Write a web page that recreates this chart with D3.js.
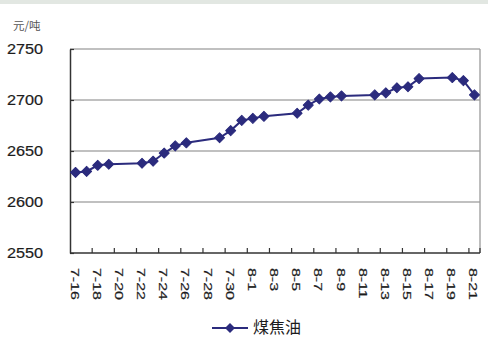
<!DOCTYPE html>
<html>
<head>
<meta charset="utf-8">
<script src="https://cdn.jsdelivr.net/npm/d3@7"></script>
<style>
  html, body { margin: 0; padding: 0; background: #fff; }
  svg { display: block; }
</style>
</head>
<body>
<svg id="chart" width="488" height="337"></svg>
<script>
// Every calendar day on the category axis (7-16 through 8-21)
const days = [
  "7-16","7-17","7-18","7-19","7-20","7-21","7-22","7-23","7-24","7-25",
  "7-26","7-27","7-28","7-29","7-30","7-31","8-1","8-2","8-3","8-4",
  "8-5","8-6","8-7","8-8","8-9","8-10","8-11","8-12","8-13","8-14",
  "8-15","8-16","8-17","8-18","8-19","8-20","8-21"
];
// Quoted days and prices (元/吨)
const quoteDays = [
  "7-16","7-17","7-18","7-19","7-22","7-23","7-24","7-25","7-26",
  "7-29","7-30","7-31","8-1","8-2","8-5","8-6","8-7","8-8","8-9",
  "8-12","8-13","8-14","8-15","8-16","8-19","8-20","8-21"
];
const prices = [
  2629, 2630, 2636, 2637, 2638, 2640, 2648, 2655, 2658,
  2663, 2670, 2680, 2682, 2684, 2687, 2695, 2701, 2703, 2704,
  2705, 2707, 2712, 2713, 2721, 2722, 2719, 2705
];
const yTicks = [2550, 2600, 2650, 2700, 2750];
const seriesName = "煤焦油";
const unitLabel = "元/吨";

const navy = "#2b2b7d";
const svg = d3.select("#chart");

// top strip
svg.append("rect").attr("x", 0).attr("y", 0).attr("width", 488).attr("height", 4)
  .attr("fill", "#e2e7e2");

const plotL = 70, plotR = 480, plotT = 49, plotB = 253;

const x = d3.scaleBand().domain(days).range([plotL, plotR]).padding(0);
const y = d3.scaleLinear().domain([2550, 2750]).range([plotB, plotT]);

// gridlines
svg.append("g").selectAll("line").data(yTicks.slice(1)).join("line")
  .attr("x1", plotL).attr("x2", plotR)
  .attr("y1", d => y(d)).attr("y2", d => y(d))
  .attr("stroke", "#ababab").attr("stroke-width", 1.5);

// right plot border
svg.append("line").attr("x1", plotR).attr("x2", plotR).attr("y1", plotT).attr("y2", plotB)
  .attr("stroke", "#9a9a9a").attr("stroke-width", 1.3);

// y axis (ticks pointing inward)
const yAxis = d3.axisRight(y).tickValues(yTicks).tickSize(4).tickSizeOuter(0).tickFormat("");
const gy = svg.append("g").attr("transform", `translate(${plotL},0)`).call(yAxis);
gy.select(".domain").attr("stroke", "#333").attr("stroke-width", 1.5);
gy.selectAll(".tick line").attr("stroke", "#333").attr("stroke-width", 1.2);

// y labels
svg.append("g").selectAll("text").data(yTicks).join("text")
  .attr("transform", d => `translate(43,${y(d)}) scale(1.16,1)`)
  .attr("dy", "0.36em")
  .attr("text-anchor", "end")
  .attr("font-family", "Liberation Sans, Arial, sans-serif")
  .attr("font-size", 14)
  .attr("fill", "#1c1c1c")
  .attr("stroke", "#1c1c1c").attr("stroke-width", 0.2)
  .text(d => d);

// unit label
svg.append("text").attr("x", 13).attr("y", 30)
  .attr("font-family", "Noto Sans CJK SC, sans-serif")
  .attr("font-size", 11.5).attr("fill", "#555")
  .text(unitLabel);

// x axis: ticks every second day, pointing inward
const tickDays = days.filter((d, i) => i % 2 === 0);
const gx = svg.append("g");
gx.append("line").attr("x1", plotL).attr("x2", plotR).attr("y1", plotB).attr("y2", plotB)
  .attr("stroke", "#333").attr("stroke-width", 1.5);
gx.selectAll("line.tk").data(tickDays.slice(1).concat(["end"])).join("line")
  .attr("class", "tk")
  .attr("x1", d => d === "end" ? plotR : x(d)).attr("x2", d => d === "end" ? plotR : x(d))
  .attr("y1", plotB).attr("y2", plotB - 5)
  .attr("stroke", "#333").attr("stroke-width", 1.2);

// x labels, rotated
svg.append("g").selectAll("text").data(tickDays).join("text")
  .attr("transform", d => `translate(${x(d) + x.bandwidth() / 2 - 1},268) rotate(90) scale(1.45,1)`)
  .attr("dy", "0.36em")
  .attr("font-family", "Liberation Sans, Arial, sans-serif")
  .attr("font-size", 11)
  .attr("fill", "#1c1c1c")
  .attr("stroke", "#1c1c1c").attr("stroke-width", 0.2)
  .text(d => d);

// series
const pts = quoteDays.map((d, i) => ({ day: d, v: prices[i] }));
const cx = d => x(d.day) + x.bandwidth() / 2;
svg.append("path").datum(pts)
  .attr("d", d3.line().x(cx).y(d => y(d.v)))
  .attr("fill", "none").attr("stroke", navy).attr("stroke-width", 2);

const marker = d3.symbol(d3.symbolSquare, 50);
svg.append("g").selectAll("path").data(pts).join("path")
  .attr("d", marker)
  .attr("transform", d => `translate(${cx(d)},${y(d.v)}) rotate(45)`)
  .attr("fill", navy)
  .attr("stroke", navy).attr("stroke-width", 1).attr("stroke-linejoin", "round");

// legend
const lg = svg.append("g");
lg.append("line").attr("x1", 212).attr("x2", 248).attr("y1", 328).attr("y2", 328)
  .attr("stroke", navy).attr("stroke-width", 2);
lg.append("path").attr("d", marker).attr("transform", "translate(230,328) rotate(45)")
  .attr("fill", navy);
lg.append("text").attr("x", 253).attr("y", 333)
  .attr("font-family", "Noto Sans CJK SC, sans-serif")
  .attr("font-size", 16).attr("fill", "#1c1c1c")
  .text(seriesName);
</script>
</body>
</html>
